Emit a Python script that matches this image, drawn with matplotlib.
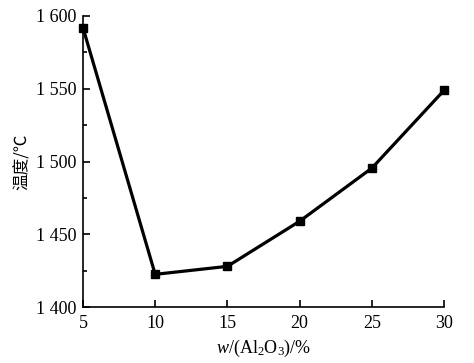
import matplotlib
matplotlib.use('Agg')
import matplotlib.pyplot as plt
from matplotlib.ticker import MultipleLocator, FuncFormatter

# data
al2o3 = [5, 10, 15, 20, 25, 30]
temperature = [1592, 1422.5, 1428, 1459, 1495.5, 1549]

plt.rcParams['font.family'] = ['Liberation Serif', 'Noto Sans CJK SC']
plt.rcParams['mathtext.fontset'] = 'custom'
plt.rcParams['mathtext.rm'] = 'Liberation Serif'
plt.rcParams['mathtext.it'] = 'Liberation Serif:italic'

fig = plt.figure(figsize=(4.74, 3.63), dpi=100)
ax = fig.add_axes([0.175, 0.154, 0.762, 0.802])

ax.plot(al2o3, temperature, color='black', linewidth=2.3, marker='s',
        markersize=5.5, clip_on=False)

ax.set_xlim(5, 30)
ax.set_ylim(1400, 1600)
ax.xaxis.set_major_locator(MultipleLocator(5))
ax.yaxis.set_major_locator(MultipleLocator(50))
ax.yaxis.set_minor_locator(MultipleLocator(25))
ax.yaxis.set_major_formatter(FuncFormatter(
    lambda v, p: '{:,}'.format(int(v)).replace(',', ' ')))

ax.tick_params(which='both', direction='in', width=1.2, labelsize=13)
ax.tick_params(which='major', length=5)
ax.tick_params(which='minor', length=3)
ax.tick_params(axis='x', pad=6)
ax.tick_params(axis='y', pad=5)
for side in ('top', 'right'):
    ax.spines[side].set_visible(False)
for side in ('left', 'bottom'):
    ax.spines[side].set_linewidth(1.2)

ax.set_xlabel(r'$w$/(Al$_2$O$_3$)/%', fontsize=13, labelpad=4)
ax.set_ylabel('温度/℃', fontsize=12, labelpad=3,
              family=['Noto Sans CJK SC', 'DejaVu Sans'])

plt.savefig('out.png', dpi=100)
